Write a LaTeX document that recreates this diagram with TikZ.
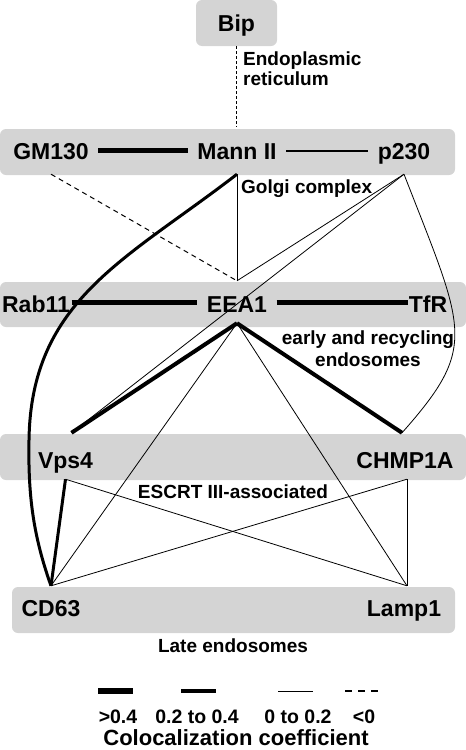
\documentclass[tikz,border=0pt]{standalone}
\usepackage{fontspec}
\setmainfont{Liberation Sans}
\definecolor{bandgray}{RGB}{212,212,212}
\begin{document}
\begin{tikzpicture}[x=1pt,y=-1pt,
  band/.style={fill=bandgray, rounded corners=6pt},
  prot/.style={font=\fontsize{23}{27}\selectfont\bfseries, anchor=base, text height=16.5pt, text depth=0pt, inner xsep=9.5pt},
  rowA/.style={inner ysep=15pt},
  rowB/.style={text height=20pt, inner ysep=11pt},
  rowC/.style={text height=24pt, inner ysep=11pt},
  rowD/.style={inner ysep=13.5pt},
  lbl/.style={font=\fontsize{19}{21}\selectfont\bfseries, inner sep=0pt},
  wA/.style={line width=5pt},
  wB/.style={line width=4pt},
  wC/.style={line width=3pt},
  wD/.style={line width=2pt},
  thinline/.style={line width=0.8pt},
  neg/.style={line width=1pt, dash pattern=on 5pt off 4pt},
  negfine/.style={line width=1pt, dash pattern=on 3pt off 2pt}
]
\useasboundingbox (0,0) rectangle (466,750);
% bands
\fill[band] (196,0) rectangle (277,46);
\fill[band] (0,129) rectangle (455,175);
\fill[band] (0,282) rectangle (466,327);
\fill[band] (0,434) rectangle (466,480);
\fill[band] (12,587) rectangle (455,633);
% protein nodes
\node[prot,rowA] (bip) at (236.5,31) {Bip};
\node[prot,rowA] (gm130) at (51,159) {GM130};
\node[prot,rowA] (mann) at (237,159) {Mann II};
\node[prot,rowA] (p230) at (404,159) {p230};
\node[prot,rowB,inner xsep=1.5pt] (rab11) at (36,312) {Rab11};
\node[prot,rowB] (eea1) at (237,312) {EEA1};
\node[prot,rowB,inner xsep=1pt] (tfr) at (428,312) {TfR};
\node[prot,rowC] (vps4) at (65.5,468) {Vps4};
\node[prot,rowC] (chmp) at (405,468) {CHMP1A};
\node[prot,rowD] (cd63) at (51,616) {CD63};
\node[prot,rowD] (lamp1) at (404,616) {Lamp1};
% compartment labels
\node[lbl, anchor=base west, align=left, font=\fontsize{19}{20}\selectfont\bfseries] (er) at (243,85) {Endoplasmic\\reticulum};
\node[lbl, anchor=base west] (golgi) at (241,193) {Golgi complex};
\node[lbl, anchor=base, align=center, font=\fontsize{19}{22}\selectfont\bfseries] (early) at (368,366) {early and recycling\\endosomes};
\node[lbl, anchor=base] (escrt) at (233,498) {ESCRT III-associated};
\node[lbl, anchor=base] (late) at (233,652) {Late endosomes};
% connectors
\draw[negfine] (bip.south) -- (bip.south |- mann.north);
\draw[wA] (gm130.east) -- (mann.west);
\draw[wD] (mann.east) -- (p230.west);
\draw[neg] (gm130.south) -- (eea1.north);
\draw[thinline] (mann.south) -- (eea1.north);
\draw[thinline] (p230.south) -- (eea1.north);
\draw[thinline] (p230.south) -- ([xshift=6pt]vps4.north);
\draw[thinline] (p230.south) .. controls (465,331) and (479,346) .. ([xshift=-3pt]chmp.north);
\draw[wC] (mann.south) .. controls (126,260) and (31,300) .. (29,440) .. controls (28,495) and (33,535) .. (cd63.north);
\draw[wA] (rab11.east) -- (eea1.west);
\draw[wA] (eea1.east) -- (tfr.west);
\draw[wB] (eea1.south) -- ([xshift=6pt]vps4.north);
\draw[wB] (eea1.south) -- ([xshift=-3pt]chmp.north);
\draw[thinline] (eea1.south) -- (cd63.north);
\draw[thinline] (eea1.south) -- ([xshift=3pt]lamp1.north);
\draw[wC] (vps4.south) -- (cd63.north);
\draw[thinline] (vps4.south) -- ([xshift=3pt]lamp1.north);
\draw[thinline] ([xshift=2pt]chmp.south) -- (cd63.north);
\draw[thinline] ([xshift=2pt]chmp.south) -- ([xshift=3pt]lamp1.north);
% legend
\draw[line width=5.7pt] (98,691) -- (133,691);
\draw[line width=3.7pt] (181,691) -- (216,691);
\draw[line width=1pt] (278,691) -- (313,691);
\draw[line width=1.3pt, dash pattern=on 7pt off 6pt] (345,691) -- (380,691);
\node[lbl, anchor=base, font=\fontsize{19.5}{22}\selectfont\bfseries] (k1) at (118,723) {>0.4};
\node[lbl, anchor=base, font=\fontsize{19.5}{22}\selectfont\bfseries] (k2) at (197,723) {0.2 to 0.4};
\node[lbl, anchor=base, font=\fontsize{19.5}{22}\selectfont\bfseries] (k3) at (298,723) {0 to 0.2};
\node[lbl, anchor=base, font=\fontsize{19.5}{22}\selectfont\bfseries] (k4) at (364,723) {<0};
\node[lbl, anchor=base, font=\fontsize{22}{26}\selectfont\bfseries] (coloc) at (236,745.5) {Colocalization coefficient};
\end{tikzpicture}
\end{document}
